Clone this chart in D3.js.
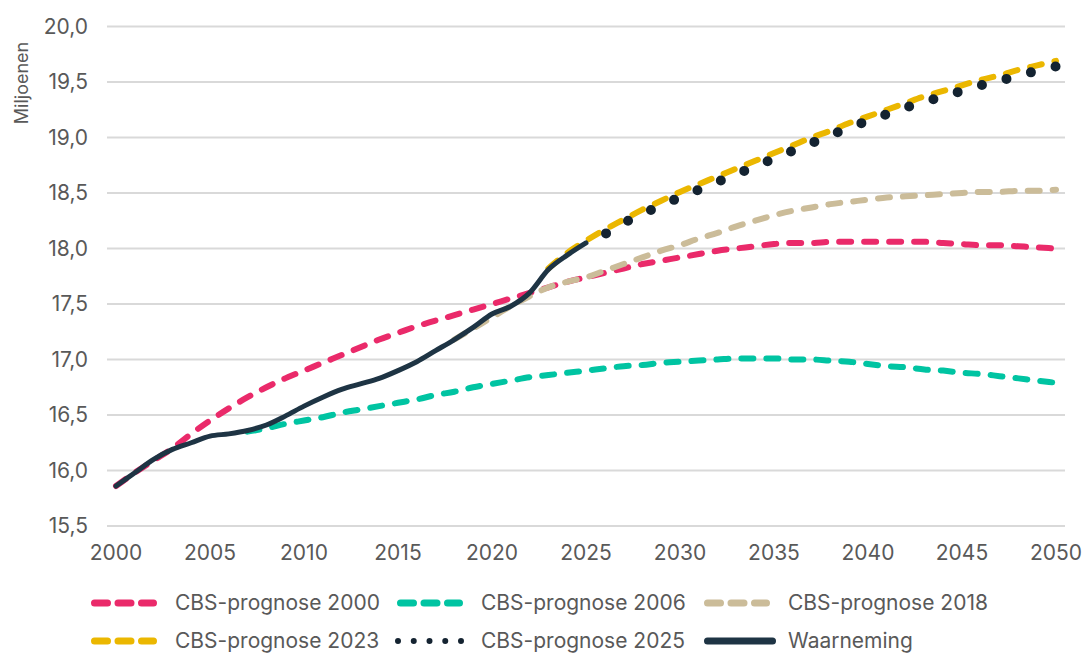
<!DOCTYPE html>
<html>
<head>
<meta charset="utf-8">
<script src="https://d3js.org/d3.v7.min.js"></script>
<style>
  body { margin: 0; background: #ffffff; }
  svg { display: block; font-family: Inter, "Noto Sans", sans-serif; }
  .grid line { stroke: #d9d9d9; stroke-width: 2; }
  .tick-label { fill: #595959; font-size: 21px; }
  .legend text { fill: #595959; font-size: 21px; }
  .series { fill: none; stroke-linecap: round; stroke-linejoin: round; }
</style>
</head>
<body>
<script>
// ** data (millions)
var yTicks = [15.5, 16.0, 16.5, 17.0, 17.5, 18.0, 18.5, 19.0, 19.5, 20.0];
var xTicks = [2000, 2005, 2010, 2015, 2020, 2025, 2030, 2035, 2040, 2045, 2050];

var years2000 = d3.range(2000, 2051);
var prognose2000 = [15.86, 15.98, 16.09, 16.20, 16.33, 16.45, 16.56, 16.66, 16.75, 16.83,
  16.90, 16.97, 17.04, 17.11, 17.18, 17.24, 17.30, 17.35, 17.40, 17.45,
  17.50, 17.55, 17.60, 17.65, 17.70, 17.74, 17.78, 17.82, 17.86, 17.89,
  17.92, 17.95, 17.98, 18.00, 18.02, 18.04, 18.05, 18.05, 18.06, 18.06,
  18.06, 18.06, 18.06, 18.06, 18.05, 18.04, 18.03, 18.03, 18.02, 18.01, 18.00];

var years2006 = d3.range(2007, 2051);
var prognose2006 = [16.35, 16.38, 16.42, 16.45, 16.48, 16.52, 16.55, 16.58, 16.61,
  16.64, 16.68, 16.71, 16.75, 16.78, 16.81, 16.84, 16.86, 16.88, 16.90,
  16.92, 16.94, 16.95, 16.97, 16.98, 16.99, 17.00, 17.01, 17.01, 17.01,
  17.00, 17.00, 16.99, 16.98, 16.96, 16.94, 16.93, 16.91, 16.90, 16.88,
  16.87, 16.85, 16.83, 16.81, 16.79];

var years2018 = d3.range(2018, 2051);
var prognose2018 = [17.18, 17.28, 17.38, 17.48, 17.57, 17.65, 17.70, 17.74, 17.80,
  17.86, 17.92, 17.98, 18.03, 18.09, 18.14, 18.20, 18.25, 18.30, 18.34,
  18.37, 18.40, 18.42, 18.44, 18.46, 18.47, 18.48, 18.49, 18.50, 18.51,
  18.51, 18.52, 18.52, 18.53];

var years2023 = d3.range(2023, 2051);
var prognose2023 = [17.82, 17.96, 18.07, 18.17, 18.26, 18.35, 18.43, 18.51, 18.58,
  18.65, 18.72, 18.79, 18.86, 18.93, 19.00, 19.06, 19.13, 19.19, 19.25,
  19.31, 19.37, 19.42, 19.47, 19.52, 19.56, 19.61, 19.65, 19.69];

var years2025 = d3.range(2025, 2051);
var prognose2025 = [18.05, 18.13, 18.23, 18.31, 18.39, 18.46, 18.53, 18.60, 18.67,
  18.74, 18.81, 18.88, 18.95, 19.02, 19.09, 19.15, 19.21, 19.27, 19.32,
  19.37, 19.42, 19.47, 19.51, 19.56, 19.60, 19.64];

var yearsObs = d3.range(2000, 2026);
var waarneming = [15.86, 15.98, 16.10, 16.19, 16.25, 16.31, 16.33, 16.36, 16.41, 16.49,
  16.58, 16.66, 16.73, 16.78, 16.83, 16.90, 16.98, 17.08, 17.18, 17.29,
  17.41, 17.48, 17.60, 17.81, 17.94, 18.05];

// ** canvas
var width = 1085, height = 655;
var svg = d3.select("body").append("svg").attr("width", width).attr("height", height);

var xScale = d3.scaleLinear().domain([2000, 2050]).range([116, 1056]);
var yScale = d3.scaleLinear().domain([15.5, 20]).range([526, 26.5]);

// gridlines
svg.append("g").attr("class", "grid")
  .selectAll("line").data(yTicks).enter().append("line")
  .attr("x1", 107).attr("x2", 1065)
  .attr("y1", function(d){ return yScale(d); })
  .attr("y2", function(d){ return yScale(d); });

var fmt = function(d){ return d3.format(".1f")(d).replace(".", ","); };

// y tick labels
svg.append("g").selectAll("text").data(yTicks).enter().append("text")
  .attr("class", "tick-label")
  .attr("x", 88)
  .attr("y", function(d){ return yScale(d); })
  .attr("dy", "0.35em")
  .attr("text-anchor", "end")
  .text(fmt);

// x tick labels
svg.append("g").selectAll("text").data(xTicks).enter().append("text")
  .attr("class", "tick-label")
  .attr("x", function(d){ return xScale(d); })
  .attr("y", 553)
  .attr("dy", "0.35em")
  .attr("text-anchor", "middle")
  .text(function(d){ return d; });

// y axis title
svg.append("text")
  .attr("transform", "translate(28,83) rotate(-90)")
  .attr("text-anchor", "middle")
  .attr("fill", "#595959")
  .style("font-size", "18px")
  .text("Miljoenen");

// ** lines
var line = d3.line()
  .x(function(d){ return xScale(d[0]); })
  .y(function(d){ return yScale(d[1]); })
  .curve(d3.curveMonotoneX);

function pairs(xs, ys){ return xs.map(function(x, i){ return [x, ys[i]]; }); }

var series = [
  { name: "CBS-prognose 2000", x: years2000, y: prognose2000, color: "#ea2a6a", width: 6, dash: "12,13" },
  { name: "CBS-prognose 2006", x: years2006, y: prognose2006, color: "#00c4a2", width: 6, dash: "12,13" },
  { name: "CBS-prognose 2018", x: years2018, y: prognose2018, color: "#cbbc99", width: 6, dash: "12,13" },
  { name: "CBS-prognose 2023", x: years2023, y: prognose2023, color: "#ebb700", width: 6, dash: "12,13" },
  { name: "CBS-prognose 2025", x: years2025, y: prognose2025, color: "#142331", width: 10, dash: "dots" },
  { name: "Waarneming", x: yearsObs, y: waarneming, color: "#1e3444", width: 5, dash: null }
];

series.forEach(function(s){
  var p = svg.append("path")
    .attr("class", "series")
    .attr("d", line(pairs(s.x, s.y)))
    .attr("stroke", s.color)
    .attr("stroke-width", s.width);
  if (s.dash === "dots") {
    // dots counted back from the end of the line, so the last one sits on 2050
    var L = p.node().getTotalLength();
    var gap = 25.3;
    p.attr("stroke-dasharray", "0," + gap)
     .attr("stroke-dashoffset", -(L % gap) + 0.5);
  } else if (s.dash) {
    p.attr("stroke-dasharray", s.dash);
  }
});

// ** legend
var legendCols = [91, 397, 704];
var legendRows = [603, 641];
var legend = svg.append("g").attr("class", "legend");

series.forEach(function(s, i){
  var lx = legendCols[i % 3], ly = legendRows[Math.floor(i / 3)];
  var g = legend.append("g");
  var sample = g.append("line")
    .attr("x1", lx + 3.5).attr("x2", lx + 62.5)
    .attr("y1", ly).attr("y2", ly)
    .attr("stroke", s.color)
    .attr("stroke-linecap", "round");
  if (s.dash === null) {
    sample.attr("stroke-width", 7).attr("x1", lx + 3.5).attr("x2", lx + 68.5);
  } else if (s.dash === "dots") {
    sample.attr("stroke-width", 6).attr("x1", lx + 1).attr("x2", lx + 64.5)
      .attr("stroke-dasharray", "0,15.75");
  } else {
    sample.attr("stroke-width", 7).attr("stroke-dasharray", "13,10.5");
  }
  g.append("text")
    .attr("x", lx + 84)
    .attr("y", ly)
    .attr("dy", "0.35em")
    .text(s.name);
});
</script>
</body>
</html>
